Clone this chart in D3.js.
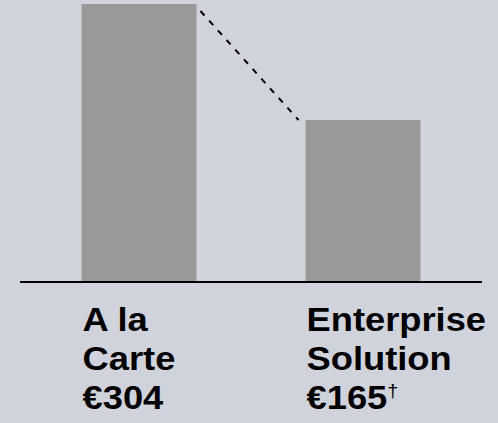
<!DOCTYPE html>
<html>
<head>
<meta charset="utf-8">
<script src="https://cdn.jsdelivr.net/npm/d3@7"></script>
<style>
  html, body { margin: 0; padding: 0; background: #d0d3db; }
  svg { display: block; }
</style>
</head>
<body>
<svg></svg>
<script>
var WIDTH = 498;
var HEIGHT = 423;
var BASE = 281;

var categories = ['A la Carte', 'Enterprise Solution'];
var labelLines = [['A la', 'Carte'], ['Enterprise', 'Solution']];
var prices = [304, 165];
var priceLabels = ['€304', '€165'];
var priceNotes = ['', '†'];

var svg = d3.select('svg')
    .attr('width', WIDTH)
    .attr('height', HEIGHT);

var xScale = d3.scaleBand()
    .domain(categories)
    .range([20, 482])
    .paddingInner(0.487)
    .paddingOuter(0.275);

var yScale = d3.scaleLinear()
    .domain([-28, 304])
    .range([BASE, 4]);

svg.selectAll('rect.bar')
    .data(prices)
    .enter()
    .append('rect')
    .attr('class', 'bar')
    .attr('x', function(d, i){ return xScale(categories[i]); })
    .attr('y', function(d){ return yScale(d); })
    .attr('width', xScale.bandwidth())
    .attr('height', function(d){ return BASE - yScale(d); })
    .attr('fill', '#999999');

// dashed connector between bar tops
var x1 = xScale(categories[0]) + xScale.bandwidth();
var x2 = xScale(categories[1]);
svg.append('line')
    .attr('x1', x1 + 4)
    .attr('y1', yScale(prices[0]) + 7)
    .attr('x2', x2 - 7)
    .attr('y2', yScale(prices[1]))
    .attr('stroke', '#000')
    .attr('stroke-width', 2)
    .attr('stroke-dasharray', '6,7');

// baseline
svg.append('line')
    .attr('x1', 20)
    .attr('x2', 482)
    .attr('y1', BASE + 1)
    .attr('y2', BASE + 1)
    .attr('stroke', '#000')
    .attr('stroke-width', 2);

var labels = svg.selectAll('g.label')
    .data(categories)
    .enter()
    .append('g')
    .attr('class', 'label')
    .attr('transform', function(d){ return 'translate(' + (xScale(d) + 1) + ',0) scale(1.1,1)'; })
    .style('font-family', '"Liberation Sans", Arial, sans-serif')
    .style('font-weight', 'bold')
    .style('font-size', '33px')
    .attr('fill', '#000');

labels.each(function(d, i){
    var g = d3.select(this);
    labelLines[i].forEach(function(line, j){
        g.append('text')
            .attr('y', 331 + j * 39)
            .text(line);
    });
    var t = g.append('text')
        .attr('y', 331 + 2 * 39)
        .text(priceLabels[i]);
    if (priceNotes[i]) {
        t.append('tspan')
            .attr('dy', -12)
            .style('font-size', '18px')
            .style('font-weight', 'normal')
            .text(priceNotes[i]);
    }
});
</script>
</body>
</html>
